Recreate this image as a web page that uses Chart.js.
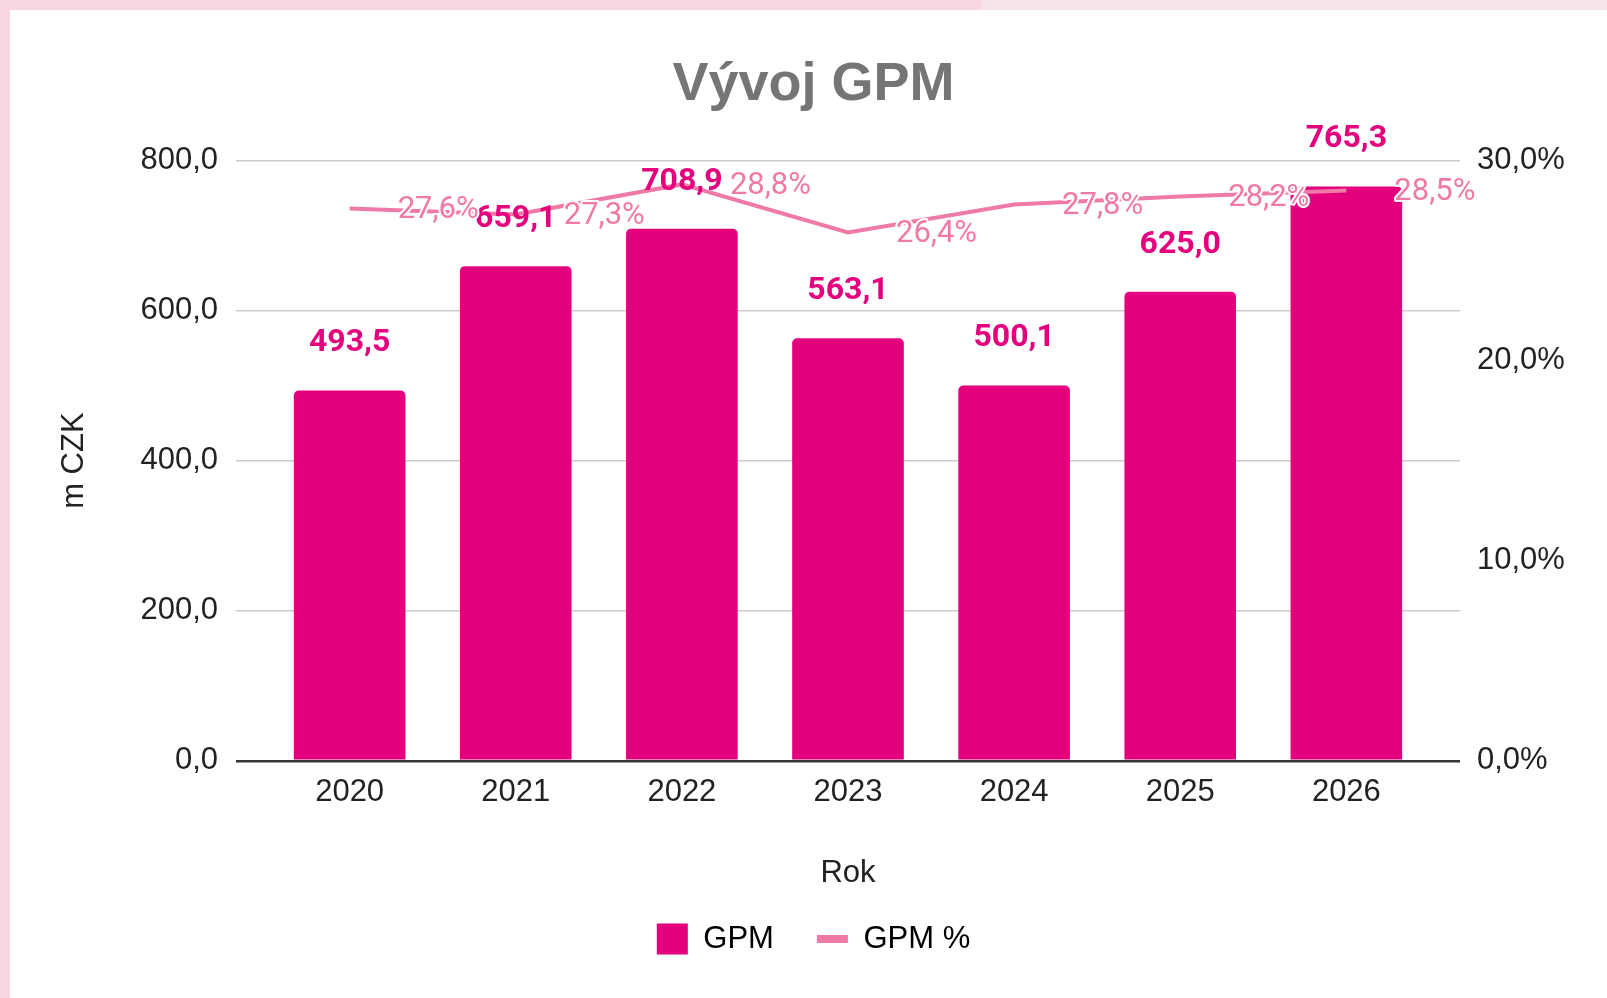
<!DOCTYPE html>
<html>
<head>
<meta charset="utf-8">
<script src="https://cdn.jsdelivr.net/npm/chart.js@4.4.1/dist/chart.umd.min.js"></script>
<style>
  html, body { margin: 0; padding: 0; }
  body { width: 1607px; height: 998px; background: #f6d7e3; position: relative; overflow: hidden; }
  #band { position: absolute; left: 982px; top: 0; width: 625px; height: 10px; background: #f8e3ec; }
  #card { position: absolute; left: 10px; top: 10px; width: 1597px; height: 988px; background: #fff; }
</style>
</head>
<body>
<div id="band"></div>
<div id="card"><canvas id="chart"></canvas></div>
<script>
const roky = ["2020", "2021", "2022", "2023", "2024", "2025", "2026"];
const gpm = [493.5, 659.1, 708.9, 563.1, 500.1, 625.0, 765.3];
const gpmProc = [27.6, 27.3, 28.8, 26.4, 27.8, 28.2, 28.5];
const levaOsa = [0, 800, 200];
const pravaOsa = [0, 30, 10];

const magenta = "#e4007c";
const ruzova = "#f07aa7";
const TICK_FONT = { family: "'Liberation Sans', Arial, sans-serif", size: 31, lineHeight: 1.2 };

function cz(v) {
  return v.toFixed(1).replace(".", ",");
}

// popisky hodnot nad sloupci a vedle bodů čáry
const popisky = {
  id: "popisky",
  afterDatasetsDraw(chart) {
    const ctx = chart.ctx;
    const sloupce = chart.getDatasetMeta(0).data;
    const body = chart.getDatasetMeta(1).data;
    ctx.save();
    ctx.textBaseline = "middle";

    ctx.font = "bold 32px Roboto";
    ctx.textAlign = "center";
    ctx.fillStyle = magenta;
    sloupce.forEach((s, i) => ctx.fillText(cz(gpm[i]), s.x, s.y - 47));

    ctx.font = "31px Roboto";
    ctx.textAlign = "left";
    ctx.lineJoin = "round";
    ctx.lineWidth = 4;
    ctx.strokeStyle = "#fff";
    ctx.fillStyle = ruzova;
    body.forEach((b, i) => {
      const t = cz(gpmProc[i]) + "%";
      ctx.strokeText(t, b.x + 48, b.y + 2);
      ctx.fillText(t, b.x + 48, b.y + 2);
    });
    ctx.restore();
  }
};

new Chart(document.getElementById("chart"), {
  type: "bar",
  data: {
    datasets: [
      {
        label: "GPM",
        data: gpm.map((v, i) => ({ x: i, y: v })),
        backgroundColor: magenta,
        yAxisID: "y",
        order: 2,
        categoryPercentage: 1,
        barPercentage: 0.672,
        borderRadius: { topLeft: 5, topRight: 5 },
        borderSkipped: "bottom"
      },
      {
        type: "line",
        label: "GPM %",
        data: gpmProc.map((v, i) => ({ x: i, y: v })),
        borderColor: ruzova,
        backgroundColor: ruzova,
        borderWidth: 4,
        pointRadius: 0,
        tension: 0,
        yAxisID: "y1",
        order: 1
      }
    ]
  },
  options: {
    responsive: true,
    maintainAspectRatio: false,
    animation: false,
    layout: { padding: { left: 10, right: 0, top: 0, bottom: 33.5 } },
    plugins: {
      tooltip: { enabled: false },
      title: {
        display: true,
        text: "Vývoj GPM",
        color: "#757575",
        font: { family: "'Liberation Sans', Arial, sans-serif", size: 54, weight: "bold", lineHeight: 1.2 },
        padding: { top: 42.6, bottom: 43 }
      },
      legend: {
        position: "bottom",
        labels: {
          usePointStyle: true,
          pointStyleWidth: 31,
          boxHeight: 31,
          padding: 43,
          color: "#222",
          font: { family: "'Liberation Sans', Arial, sans-serif", size: 31 },
          generateLabels: () => [
            { text: "GPM", fillStyle: magenta, strokeStyle: magenta, lineWidth: 0, pointStyle: "rect", datasetIndex: 0 },
            { text: "GPM %", fillStyle: ruzova, strokeStyle: ruzova, lineWidth: 8, pointStyle: "line", datasetIndex: 1 }
          ]
        }
      }
    },
    scales: {
      x: {
        type: "linear",
        offset: false,
        min: -0.684,
        max: 6.684,
        grid: { display: false, drawTicks: false },
        border: { display: false },
        ticks: {
          stepSize: 1,
          includeBounds: false,
          color: "#222",
          font: TICK_FONT,
          padding: 13,
          callback: (v) => roky[v] ?? ""
        },
        title: {
          display: true,
          text: "Rok",
          color: "#222",
          font: { family: "'Liberation Sans', Arial, sans-serif", size: 31, lineHeight: 1 },
          padding: { top: 33.5, bottom: -8 }
        }
      },
      y: {
        position: "left",
        min: levaOsa[0],
        max: levaOsa[1],
        grid: {
          drawTicks: false,
          color: (c) => (c.tick && c.tick.value === 0 ? "#333" : "#cccccc"),
          lineWidth: (c) => (c.tick && c.tick.value === 0 ? 2.5 : 1.5)
        },
        border: { display: false },
        ticks: { stepSize: levaOsa[2], color: "#222", font: TICK_FONT, padding: 18, callback: (v) => cz(v) },
        title: {
          display: true,
          text: "m CZK",
          color: "#222",
          font: { family: "'Liberation Sans', Arial, sans-serif", size: 31, lineHeight: 1.2 },
          padding: { top: 35.4, bottom: 0 }
        },
        afterFit: (s) => { s.width = 216; }
      },
      y1: {
        position: "right",
        min: pravaOsa[0],
        max: pravaOsa[1],
        grid: { display: false, drawTicks: false },
        border: { display: false },
        ticks: { stepSize: pravaOsa[2], color: "#222", font: TICK_FONT, padding: 17, callback: (v) => cz(v) + "%" },
        afterFit: (s) => { s.width = 147; }
      }
    }
  },
  plugins: [popisky]
});
</script>
</body>
</html>
